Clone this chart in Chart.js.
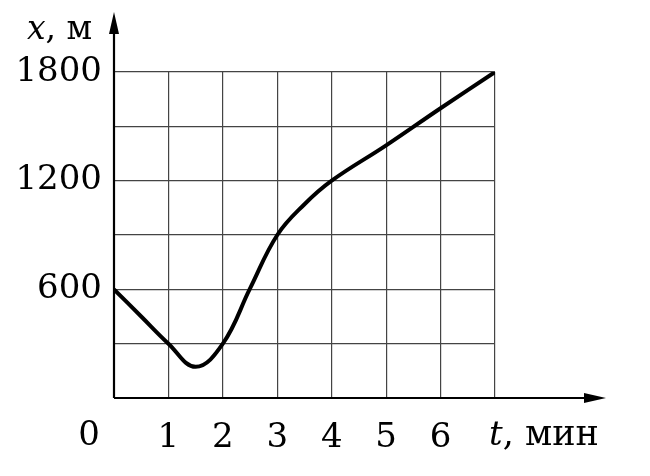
<!DOCTYPE html>
<html><head><meta charset="utf-8">
<script src="https://cdn.jsdelivr.net/npm/chart.js@4"></script>
<style>html,body{margin:0;padding:0;background:#fff}#wrap{width:650px;height:476px}</style>
</head><body><div id="wrap"><canvas id="c" width="650" height="476"></canvas></div>
<script>
const times = [0, 0.5, 1, 1.5, 2, 2.5, 3, 3.5, 4, 5, 6, 7];
const positions = [600, 450, 300, 172, 300, 605, 900, 1070, 1200, 1395, 1600, 1800];
const xTickLabels = ['', '1', '2', '3', '4', '5', '6', ''];
const yTickLabels = {0: '', 600: '600', 1200: '1200', 1800: '1800'};
const xAxisTitle = ['t', ', мин'];
const yAxisTitle = ['x', ', м'];

const FONT = '"DejaVu Serif", serif';

const decor = {
  id: 'decor',
  afterDraw(chart) {
    const ctx = chart.ctx;
    const xs = chart.scales.x, ys = chart.scales.y;
    const x0 = xs.getPixelForValue(0), y0 = ys.getPixelForValue(0);
    ctx.save();
    ctx.strokeStyle = '#000'; ctx.fillStyle = '#000'; ctx.lineWidth = 2.2;
    // y axis
    ctx.beginPath(); ctx.moveTo(x0, y0); ctx.lineTo(x0, 28); ctx.stroke();
    ctx.beginPath(); ctx.moveTo(x0, 12); ctx.lineTo(x0 - 5, 34); ctx.lineTo(x0 + 5, 34); ctx.closePath(); ctx.fill();
    // x axis
    ctx.beginPath(); ctx.moveTo(x0, y0); ctx.lineTo(590, y0); ctx.stroke();
    ctx.beginPath(); ctx.moveTo(606, y0); ctx.lineTo(584, y0 - 5); ctx.lineTo(584, y0 + 5); ctx.closePath(); ctx.fill();
    // origin label
    ctx.textBaseline = 'alphabetic';
    ctx.font = '34px ' + FONT;
    ctx.textAlign = 'center';
    ctx.fillText('0', x0 - 25, 445);
    // x axis title
    ctx.textAlign = 'left';
    ctx.font = 'italic 34px ' + FONT;
    ctx.fillText(xAxisTitle[0], 489, 445);
    let w = ctx.measureText(xAxisTitle[0]).width;
    ctx.font = '35px ' + FONT;
    ctx.fillText(xAxisTitle[1], 489 + w, 445);
    // y axis title
    ctx.font = 'italic 33px ' + FONT;
    ctx.fillText(yAxisTitle[0], 27, 39);
    w = ctx.measureText(yAxisTitle[0]).width;
    ctx.font = '33px ' + FONT;
    ctx.fillText(yAxisTitle[1], 27 + w, 39);
    ctx.restore();
  }
};

new Chart(document.getElementById('c'), {
  type: 'line',
  data: {
    datasets: [{
      data: times.map((t, i) => ({x: t, y: positions[i]})),
      borderColor: '#000',
      borderWidth: 4,
      pointRadius: 0,
      tension: 0.4,
      fill: false
    }]
  },
  options: {
    responsive: false,
    animation: false,
    layout: {padding: {left: 0, right: 155, top: 72, bottom: 0}},
    plugins: {legend: {display: false}, tooltip: {enabled: false}},
    scales: {
      x: {
        type: 'linear', min: 0, max: 7,
        afterFit(s) { s.height = 78; },
        border: {display: false},
        grid: {color: '#444', lineWidth: 1.2, drawTicks: false},
        ticks: {stepSize: 1, padding: 20, color: '#000', maxRotation: 0, autoSkip: false,
          font: {family: FONT, size: 34},
          callback: v => xTickLabels[v] ?? ''}
      },
      y: {
        type: 'linear', min: 0, max: 1800,
        afterFit(s) { s.width = 114; },
        border: {display: false},
        grid: {color: '#444', lineWidth: 1.2, drawTicks: false},
        ticks: {stepSize: 300, padding: 12, color: '#000', autoSkip: false,
          font: {family: FONT, size: 34},
          callback: v => yTickLabels[v] ?? ''}
      }
    }
  },
  plugins: [decor]
});
</script></body></html>
